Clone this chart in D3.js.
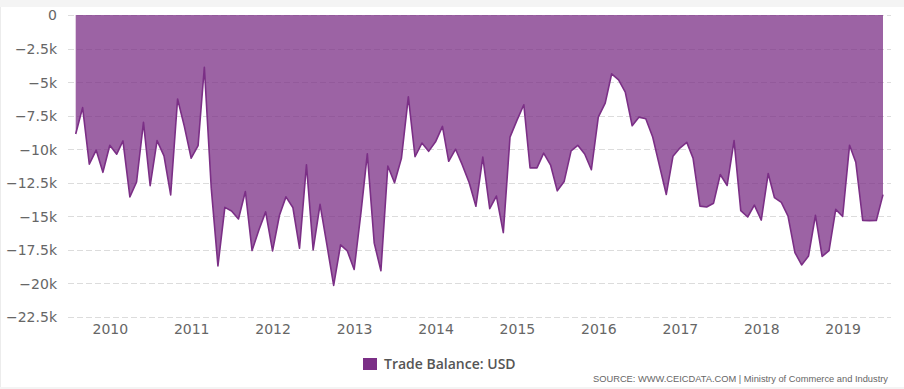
<!DOCTYPE html>
<html><head><meta charset="utf-8">
<script src="https://cdn.jsdelivr.net/npm/d3@7"></script>
<style>
html,body{margin:0;padding:0;background:#fff;}
svg{display:block;}
</style></head>
<body>
<svg id="chart" width="904" height="389"></svg>
<script>
// Monthly data: Aug 2009 – Jul 2019 (USD mn)
const startMonth = "2009-08";
const values = [
 -8870,-6900,-11110,-10070,-11720,
 -9700,-10370,-9380,-13550,-12440,-8000,-12710,-9360,-10490,-13400,-6260,-8280,
 -10670,-9730,-3890,-12900,-18690,-14330,-14600,-15200,-13150,-17550,-16000,-14670,
 -17580,-14920,-13550,-14340,-17380,-11160,-17500,-14110,-17150,-20150,-17130,-17570,
 -18960,-14650,-10350,-17000,-19050,-11250,-12500,-10680,-6100,-10560,-9540,-10160,
 -9450,-8300,-10900,-10000,-11170,-12500,-14250,-10590,-14430,-13490,-16210,-9100,
 -7850,-6690,-11390,-11390,-10290,-11180,-13100,-12400,-10120,-9710,-10360,-11530,
 -7610,-6560,-4380,-4830,-5740,-8250,-7610,-7730,-9090,-11200,-13370,-10520,
 -9910,-9490,-10660,-14240,-14310,-14020,-11880,-12700,-9360,-14580,-15050,-14170,
 -15280,-11810,-13600,-13960,-14980,-17700,-18620,-17950,-14930,-17990,-17560,-14480,
 -15010,-9700,-10970,-15300,-15320,-15310,-13380
];
const yTickValues = [0,-2500,-5000,-7500,-10000,-12500,-15000,-17500,-20000,-22500];
const yTickLabels = ["0","\u22122.5k","\u22125k","\u22127.5k","\u221210k","\u221212.5k","\u221215k","\u221217.5k","\u221220k","\u221222.5k"];
const xTickYears = [2010,2011,2012,2013,2014,2015,2016,2017,2018,2019];
const seriesName = "Trade Balance: USD";
const sourceText = "SOURCE: WWW.CEICDATA.COM | Ministry of Commerce and Industry";
const color = "#7b2f86";

const parse = d3.timeParse("%Y-%m");
const t0 = parse(startMonth);
const data = values.map((v,i)=>({date:d3.timeMonth.offset(t0,i), value:v}));

const svg = d3.select("#chart");
// frame
svg.append("rect").attr("x",0).attr("y",0).attr("width",904).attr("height",7).attr("fill","#f4f4f4");
svg.append("rect").attr("x",0).attr("y",387).attr("width",904).attr("height",2).attr("fill","#f4f4f4");
svg.append("line").attr("x1",0.5).attr("x2",0.5).attr("y1",7).attr("y2",387).attr("stroke","#ececec");

const x = d3.scaleTime().domain([data[0].date, data[data.length-1].date]).range([75.7, 883]);
const y = d3.scaleLinear().domain([-22500, 0]).range([317, 15]);

// grid
svg.append("g").selectAll("line").data(yTickValues).join("line")
  .attr("x1",68).attr("x2",891)
  .attr("y1",d=>Math.round(y(d))+0.5).attr("y2",d=>Math.round(y(d))+0.5)
  .attr("stroke","#dcdcdc").attr("stroke-width",1).attr("stroke-dasharray","6,3");

// area
const area = d3.area().x(d=>x(d.date)).y0(y(0)).y1(d=>y(d.value));
svg.append("path").datum(data).attr("d",area).attr("fill",color).attr("fill-opacity",0.75);
const line = d3.line().x(d=>x(d.date)).y(d=>y(d.value));
svg.append("path").datum(data).attr("d",line).attr("fill","none").attr("stroke",color).attr("stroke-width",1.6).attr("stroke-linejoin","round");

// y axis labels
const yAxis = d3.axisLeft(y).tickValues(yTickValues).tickSize(0).tickPadding(0)
  .tickFormat((d,i)=>yTickLabels[i]);
const gy = svg.append("g").attr("transform","translate(57,0)").call(yAxis);
gy.select(".domain").remove();
gy.selectAll("text").attr("font-family","DejaVu Sans, sans-serif").attr("font-size","14px").attr("fill","#666").attr("dy","0.35em");

// x axis labels
const xAxis = d3.axisBottom(x).tickValues(xTickYears.map(yr=>new Date(yr,0,1))).tickSize(0).tickPadding(0)
  .tickFormat(d3.timeFormat("%Y"));
const gx = svg.append("g").attr("transform","translate(0,321)").call(xAxis);
gx.select(".domain").remove();
gx.selectAll("text").attr("font-family","DejaVu Sans, sans-serif").attr("font-size","14px").attr("fill","#666").attr("dy","0.9em");

// legend
const lg = svg.append("g");
lg.append("rect").attr("x",363).attr("y",358).attr("width",14).attr("height",12).attr("fill",color);
lg.append("text").attr("x",384).attr("y",369).text(seriesName)
  .attr("font-family","Open Sans, sans-serif").attr("font-weight",600).attr("font-size","14px").attr("fill","#555");

// source
svg.append("text").attr("x",888).attr("y",382).attr("text-anchor","end").text(sourceText)
  .attr("font-family","Liberation Sans, sans-serif").attr("font-size","9.3px").attr("fill","#666");
</script>
</body></html>
